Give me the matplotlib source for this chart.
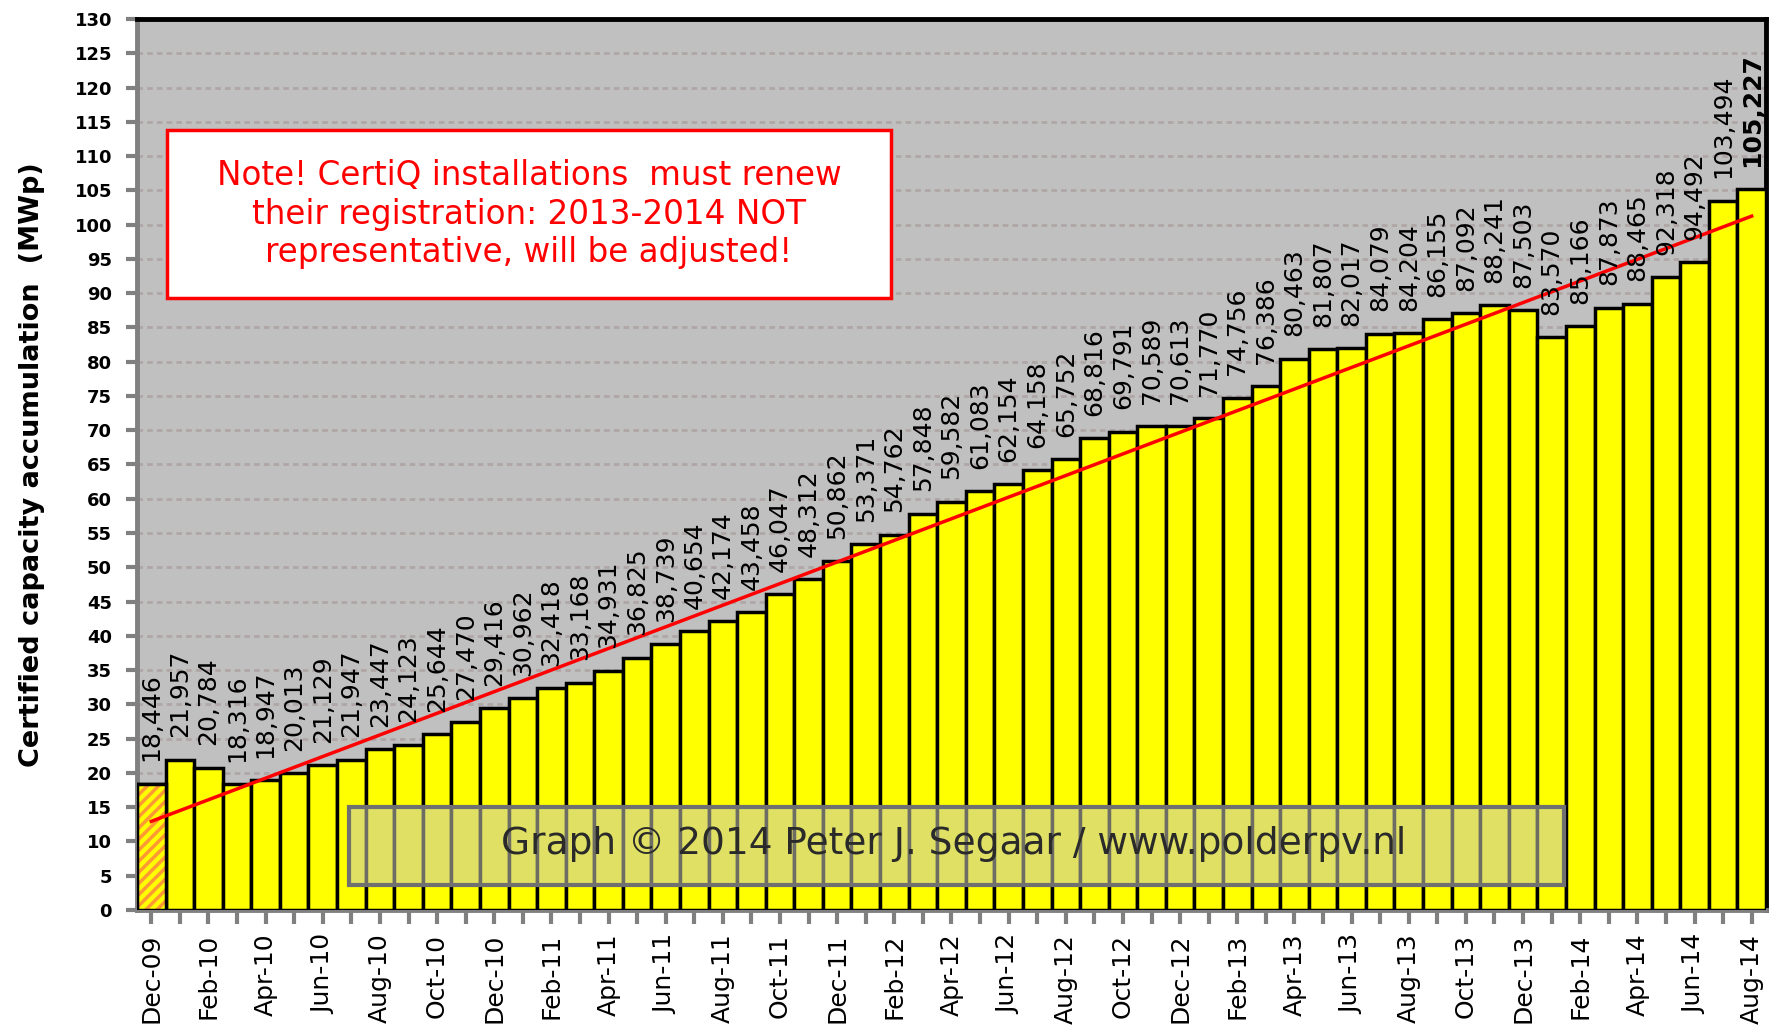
import numpy as np
import matplotlib
matplotlib.use("Agg")
import matplotlib.pyplot as plt
from matplotlib.patches import Rectangle

# --- data: CertiQ certified capacity, accumulated (MWp) ---

months = ["Dec-09", "Jan-10", "Feb-10", "Mar-10", "Apr-10", "May-10", "Jun-10",
          "Jul-10", "Aug-10", "Sep-10", "Oct-10", "Nov-10", "Dec-10",
          "Jan-11", "Feb-11", "Mar-11", "Apr-11", "May-11", "Jun-11",
          "Jul-11", "Aug-11", "Sep-11", "Oct-11", "Nov-11", "Dec-11",
          "Jan-12", "Feb-12", "Mar-12", "Apr-12", "May-12", "Jun-12",
          "Jul-12", "Aug-12", "Sep-12", "Oct-12", "Nov-12", "Dec-12",
          "Jan-13", "Feb-13", "Mar-13", "Apr-13", "May-13", "Jun-13",
          "Jul-13", "Aug-13", "Sep-13", "Oct-13", "Nov-13", "Dec-13",
          "Jan-14", "Feb-14", "Mar-14", "Apr-14", "May-14", "Jun-14",
          "Jul-14", "Aug-14"]

capacity = [18.446, 21.957, 20.784, 18.316, 18.947, 20.013, 21.129,
            21.947, 23.447, 24.123, 25.644, 27.470, 29.416,
            30.962, 32.418, 33.168, 34.931, 36.825, 38.739,
            40.654, 42.174, 43.458, 46.047, 48.312, 50.862,
            53.371, 54.762, 57.848, 59.582, 61.083, 62.154,
            64.158, 65.752, 68.816, 69.791, 70.589, 70.613,
            71.770, 74.756, 76.386, 80.463, 81.807, 82.017,
            84.079, 84.204, 86.155, 87.092, 88.241, 87.503,
            83.570, 85.166, 87.873, 88.465, 92.318, 94.492,
            103.494, 105.227]

note = ("Note! CertiQ installations  must renew\n"
        "their registration: 2013-2014 NOT\n"
        "representative, will be adjusted!")
credit = "Graph \u00a9 2014 Peter J. Segaar / www.polderpv.nl"

x = np.arange(len(capacity))

plt.rcParams['hatch.linewidth'] = 2.5

fig = plt.figure(figsize=(17.77, 10.36), dpi=100)
ax = fig.add_axes([0.0771, 0.1216, 0.9167, 0.8601])
ax.set_facecolor('#c0c0c0')

# bars (first month hatched)
bars = ax.bar(x, capacity, width=1.0, color='#ffff00', edgecolor='black',
              linewidth=2.5, zorder=3)
ax.bar(x[0], capacity[0], width=1.0, color='#ffff00', edgecolor='#ff9933',
       hatch='///', linewidth=0, zorder=3.5)
ax.bar(x[0], capacity[0], width=1.0, fill=False, edgecolor='black',
       linewidth=2.5, zorder=3.6)

# value labels
for i in range(len(capacity)):
    lab = ("%.3f" % capacity[i]).replace('.', ',')
    w = 'bold' if i == len(capacity) - 1 else 'normal'
    ax.annotate(lab, xy=(x[i], capacity[i]), xytext=(0, 16),
                textcoords='offset points', rotation=90, ha='center',
                va='bottom', fontsize=18, color='black', weight=w,
                zorder=5)

# linear trend
p = np.polyfit(x, capacity, 1)
ax.plot(x, np.polyval(p, x), color='red', linewidth=2.5, zorder=4)

# axes
ax.set_xlim(-0.5, len(capacity) - 0.5)
ax.set_ylim(0, 130)
ax.set_yticks(np.arange(0, 131, 5))
ax.set_xticks(x)
ax.set_xticklabels([m if i % 2 == 0 else "" for i, m in enumerate(months)],
                   rotation=90, fontsize=18)
for t in ax.get_yticklabels():
    t.set_fontweight('bold')
    t.set_fontsize(13)
ax.tick_params(axis='y', length=8, width=3, color='#808080', pad=10)
ax.tick_params(axis='x', length=10, width=3, color='#808080', pad=7)
ax.yaxis.grid(True, color='#b0a6a6', linewidth=2, linestyle=(0, (2, 1.5)),
              zorder=1)
ax.set_axisbelow(True)

for s in ['left', 'bottom']:
    ax.spines[s].set_color('#808080')
    ax.spines[s].set_linewidth(3.5)
for s in ['top', 'right']:
    ax.spines[s].set_color('black')
    ax.spines[s].set_linewidth(3.5)

fig.text(0.018, 0.5515, "Certified capacity accumulation  (MWp)", rotation=90,
         ha='center', va='center', fontsize=19.5, weight='bold')

# note box
ax.add_patch(Rectangle((0.0184, 0.687), 0.4445, 0.188, transform=ax.transAxes,
                       facecolor='white', edgecolor='red', linewidth=2.5,
                       zorder=6))
ax.text(0.2406, 0.781, note, transform=ax.transAxes, ha='center', va='center',
        color='red', fontsize=23.5, linespacing=1.2, zorder=7)

# credit box (translucent)
ax.add_patch(Rectangle((0.130, 0.028), 0.746, 0.0876, transform=ax.transAxes,
                       facecolor='#c8c8b8', alpha=0.55, edgecolor='none',
                       zorder=6))
ax.add_patch(Rectangle((0.130, 0.028), 0.746, 0.0876, transform=ax.transAxes,
                       fill=False, edgecolor='#707070', linewidth=3,
                       zorder=6.5))
ax.text(0.5015, 0.074, credit, transform=ax.transAxes, ha='center',
        va='center', color='#2a2a2a', fontsize=27, zorder=7)

fig.savefig("out.png", dpi=100)
